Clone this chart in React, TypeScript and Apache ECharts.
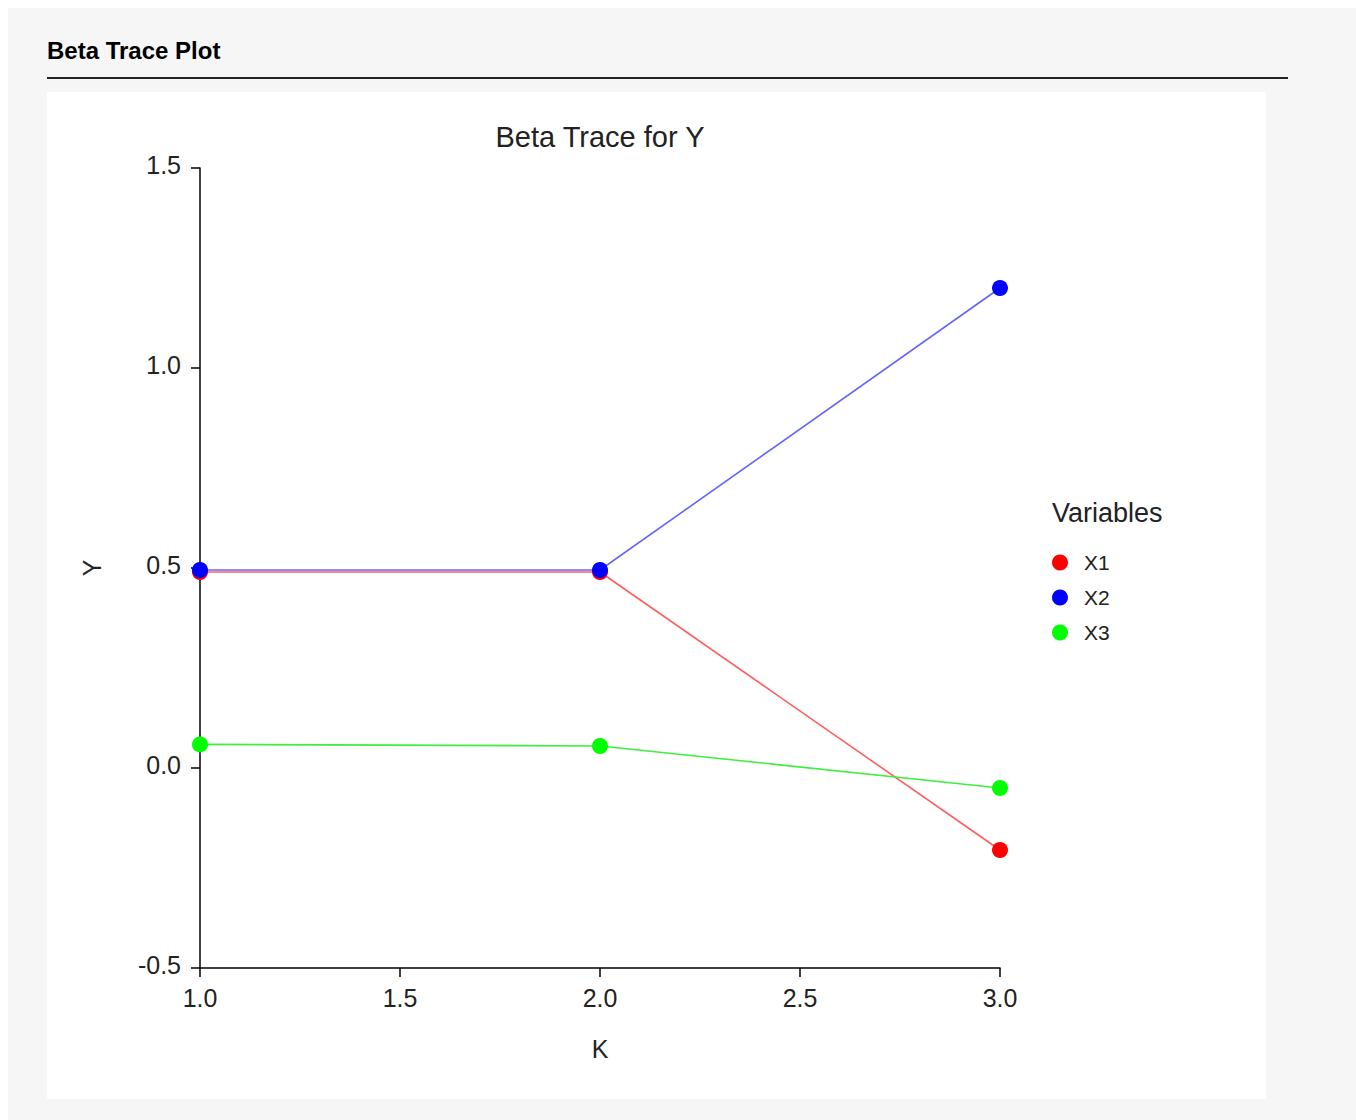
import React, { useEffect, useRef } from "react";
import * as echarts from "echarts";

const kValues = [1.0, 2.0, 3.0];
const seriesNames = ["X1", "X2", "X3"];
const x1Values = [0.49, 0.49, -0.205];
const x2Values = [0.495, 0.495, 1.2];
const x3Values = [0.059, 0.055, -0.05];
const markerColors = ["#ff0000", "#0000ff", "#00ff00"];
const lineColors = ["#ff5c5c", "#6464ff", "#3dee3d"];
const yTicks = { min: -0.5, max: 1.5, interval: 0.5 };
const xTicks = { min: 1.0, max: 3.0, interval: 0.5 };

const FONT = "'Liberation Sans', Arial, sans-serif";

export default function App() {
  const ref = useRef<HTMLDivElement>(null);
  useEffect(() => {
    document.documentElement.style.overflow = "hidden";
    const chart = echarts.init(ref.current!, null, { renderer: "svg" });
    const allValues = [x1Values, x2Values, x3Values];
    const series = seriesNames.map((name, i) => ({
      name,
      type: "line",
      data: kValues.map((k, j) => [k, allValues[i][j]]),
      symbol: "circle",
      symbolSize: 16,
      itemStyle: { color: markerColors[i] },
      lineStyle: { color: lineColors[i], width: 1.6 },
      z: 2 + i,
    }));
    chart.setOption({
      animation: false,
      backgroundColor: "transparent",
      textStyle: { fontFamily: FONT },
      graphic: [
        { type: "rect", shape: { x: 39, y: 84, width: 1219, height: 1007 }, style: { fill: "#ffffff" }, z: -10, silent: true },
        { type: "rect", shape: { x: 39, y: 69, width: 1241, height: 2 }, style: { fill: "#222222" }, z: -10, silent: true },
        { type: "text", x: 39, y: 42, style: { text: "Beta Trace Plot", font: `bold 24px ${FONT}`, fill: "#000000", textVerticalAlign: "middle" }, z: -5 },
      ],
      title: [
        {
          text: "Beta Trace for Y",
          left: 592,
          top: 114,
          textAlign: "center",
          textStyle: { fontFamily: FONT, fontSize: 29, fontWeight: "normal", color: "#222222" },
          padding: 0,
        },
        {
          text: "Variables",
          left: 1044,
          top: 491,
          textStyle: { fontFamily: FONT, fontSize: 27, fontWeight: "normal", color: "#222222" },
          padding: 0,
        },
      ],
      legend: {
        orient: "vertical",
        left: 1044,
        top: 544,
        icon: "circle",
        itemWidth: 16,
        itemHeight: 16,
        itemGap: 14,
        padding: 0,
        data: seriesNames,
        textStyle: { fontFamily: FONT, fontSize: 21, color: "#222222", lineHeight: 19, padding: [0, 0, 0, 11] },
      },
      grid: { left: 192, top: 160, width: 800, height: 800, containLabel: false },
      xAxis: {
        type: "value",
        min: xTicks.min,
        max: xTicks.max,
        interval: xTicks.interval,
        name: "K",
        nameLocation: "middle",
        nameGap: 68,
        nameTextStyle: { fontFamily: FONT, fontSize: 25, color: "#222222" },
        axisLine: { show: true, onZero: false, lineStyle: { color: "#000000", width: 1.5 } },
        axisTick: { show: true, length: 9, lineStyle: { color: "#000000", width: 1.5 } },
        axisLabel: { margin: 17, fontFamily: FONT, fontSize: 25, color: "#222222", formatter: (v: number) => v.toFixed(1) },
        splitLine: { show: false },
      },
      yAxis: {
        type: "value",
        min: yTicks.min,
        max: yTicks.max,
        interval: yTicks.interval,
        name: "Y",
        nameLocation: "middle",
        nameGap: 96,
        nameRotate: 90,
        nameTextStyle: { fontFamily: FONT, fontSize: 25, color: "#222222" },
        axisLine: { show: true, onZero: false, lineStyle: { color: "#000000", width: 1.5 } },
        axisTick: { show: true, length: 9, lineStyle: { color: "#000000", width: 1.5 } },
        axisLabel: { margin: 19, fontFamily: FONT, fontSize: 25, color: "#222222", formatter: (v: number) => v.toFixed(1), verticalAlign: "bottom", lineHeight: 25, padding: [0, 0, -9, 0] },
        splitLine: { show: false },
      },
      series,
    });
    return () => chart.dispose();
  }, []);
  return (
    <div style={{ position: "fixed", left: 8, top: 8, right: 0, bottom: 0, background: "#f6f6f6" }}>
      <div ref={ref} style={{ width: 1348, height: 1112 }} />
    </div>
  );
}
